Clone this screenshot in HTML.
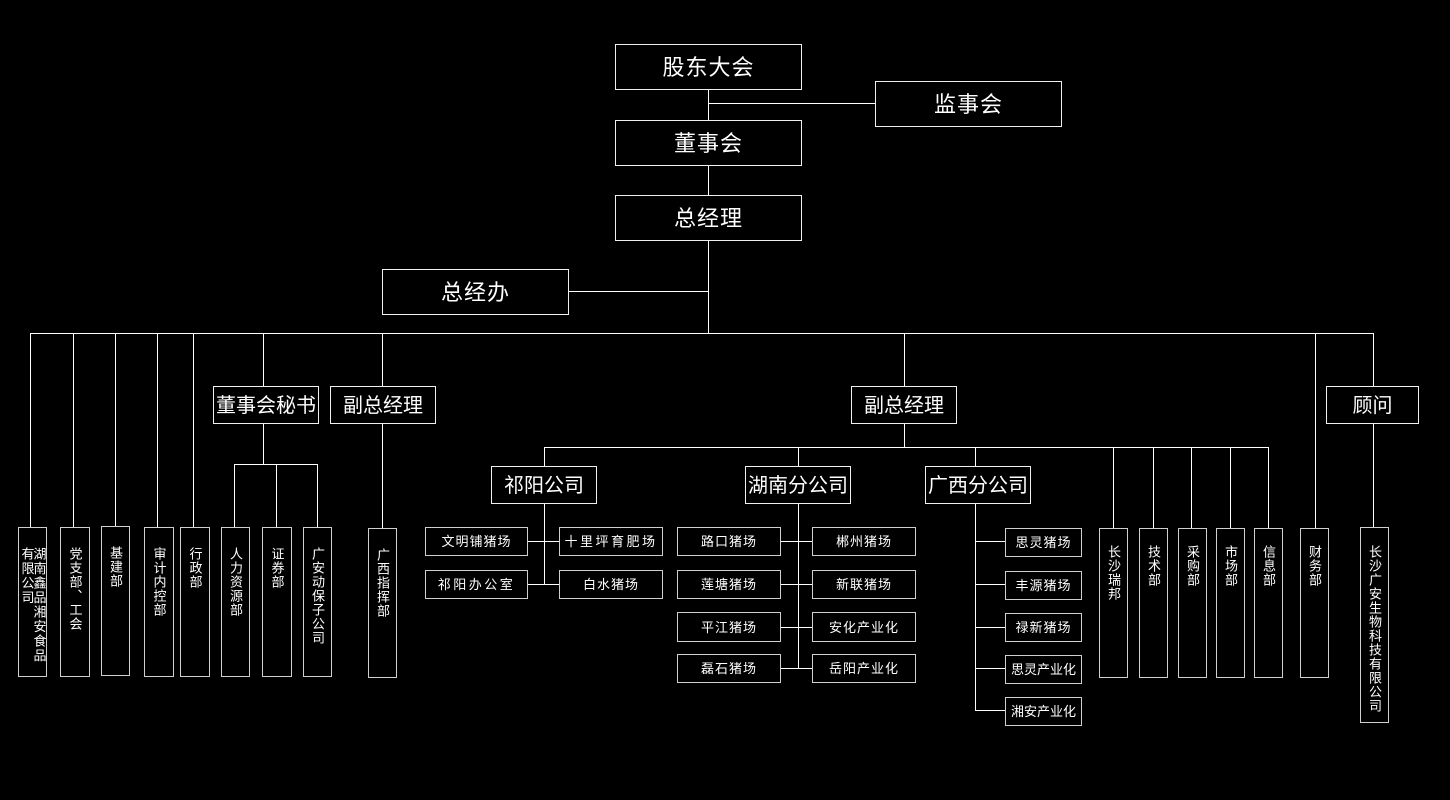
<!DOCTYPE html>
<html><head><meta charset="utf-8">
<style>
html,body{margin:0;padding:0;background:#000;}
body{width:1450px;height:800px;position:relative;overflow:hidden;font-family:"Liberation Sans","Noto Sans CJK SC",sans-serif;color:#fff;}
.l{position:absolute;background:#fff;}
.b{position:absolute;box-sizing:border-box;border:1px solid #f0f0f0;display:flex;align-items:center;justify-content:center;color:#fff;white-space:nowrap;}
.t1{font-size:22px;letter-spacing:1px;padding-bottom:3px;}
.t2{font-size:20px;letter-spacing:0px;padding-bottom:3px;}
.s{font-size:13px;letter-spacing:1px;border-color:#cfcfcf;padding-bottom:2px;}
.vb{position:absolute;box-sizing:border-box;border:1px solid #cfcfcf;display:flex;justify-content:center;align-items:flex-start;}
.vt{writing-mode:vertical-rl;text-orientation:upright;font-size:13px;line-height:13px;letter-spacing:1px;margin-top:19px;color:#fff;}
</style></head><body>

<div class="l" style="left:708px;top:89px;width:1px;height:31px"></div>
<div class="l" style="left:708px;top:103px;width:167px;height:1px"></div>
<div class="l" style="left:708px;top:165px;width:1px;height:30px"></div>
<div class="l" style="left:708px;top:240px;width:1px;height:94px"></div>
<div class="l" style="left:568px;top:291px;width:140px;height:1px"></div>
<div class="l" style="left:30px;top:333px;width:1344px;height:1px"></div>

<div class="l" style="left:30px;top:333px;width:1px;height:194px"></div>
<div class="l" style="left:73px;top:333px;width:1px;height:194px"></div>
<div class="l" style="left:115px;top:333px;width:1px;height:193px"></div>
<div class="l" style="left:157px;top:333px;width:1px;height:194px"></div>
<div class="l" style="left:193px;top:333px;width:1px;height:194px"></div>
<div class="l" style="left:263px;top:333px;width:1px;height:53px"></div>
<div class="l" style="left:382px;top:333px;width:1px;height:53px"></div>
<div class="l" style="left:904px;top:333px;width:1px;height:53px"></div>
<div class="l" style="left:1315px;top:333px;width:1px;height:195px"></div>
<div class="l" style="left:1373px;top:333px;width:1px;height:53px"></div>

<div class="l" style="left:263px;top:423px;width:1px;height:41px"></div>
<div class="l" style="left:234px;top:464px;width:84px;height:1px"></div>
<div class="l" style="left:234px;top:464px;width:1px;height:63px"></div>
<div class="l" style="left:276px;top:464px;width:1px;height:63px"></div>
<div class="l" style="left:317px;top:464px;width:1px;height:63px"></div>

<div class="l" style="left:382px;top:423px;width:1px;height:105px"></div>

<div class="l" style="left:904px;top:423px;width:1px;height:24px"></div>
<div class="l" style="left:544px;top:447px;width:725px;height:1px"></div>
<div class="l" style="left:544px;top:447px;width:1px;height:19px"></div>
<div class="l" style="left:798px;top:447px;width:1px;height:19px"></div>
<div class="l" style="left:975px;top:447px;width:1px;height:19px"></div>
<div class="l" style="left:1113px;top:447px;width:1px;height:81px"></div>
<div class="l" style="left:1153px;top:447px;width:1px;height:81px"></div>
<div class="l" style="left:1191px;top:447px;width:1px;height:81px"></div>
<div class="l" style="left:1230px;top:447px;width:1px;height:81px"></div>
<div class="l" style="left:1268px;top:447px;width:1px;height:81px"></div>

<div class="l" style="left:544px;top:503px;width:1px;height:82px"></div>
<div class="l" style="left:527px;top:541px;width:32px;height:1px"></div>
<div class="l" style="left:527px;top:584px;width:32px;height:1px"></div>

<div class="l" style="left:798px;top:503px;width:1px;height:166px"></div>
<div class="l" style="left:780px;top:541px;width:32px;height:1px"></div>
<div class="l" style="left:780px;top:584px;width:32px;height:1px"></div>
<div class="l" style="left:780px;top:627px;width:32px;height:1px"></div>
<div class="l" style="left:780px;top:668px;width:32px;height:1px"></div>

<div class="l" style="left:975px;top:503px;width:1px;height:208px"></div>
<div class="l" style="left:975px;top:541px;width:30px;height:1px"></div>
<div class="l" style="left:975px;top:584px;width:30px;height:1px"></div>
<div class="l" style="left:975px;top:627px;width:30px;height:1px"></div>
<div class="l" style="left:975px;top:668px;width:30px;height:1px"></div>
<div class="l" style="left:975px;top:710px;width:30px;height:1px"></div>

<div class="l" style="left:1373px;top:423px;width:1px;height:104px"></div>

<div class="b t1" style="left:615px;top:44px;width:187px;height:46px">股东大会</div>
<div class="b t1" style="left:875px;top:81px;width:187px;height:46px">监事会</div>
<div class="b t1" style="left:615px;top:120px;width:187px;height:46px">董事会</div>
<div class="b t1" style="left:615px;top:195px;width:187px;height:46px">总经理</div>
<div class="b t1" style="left:382px;top:269px;width:187px;height:46px">总经办</div>

<div class="b t2" style="left:213px;top:386px;width:106px;height:38px">董事会秘书</div>
<div class="b t2" style="left:330px;top:386px;width:106px;height:38px">副总经理</div>
<div class="b t2" style="left:851px;top:386px;width:106px;height:38px">副总经理</div>
<div class="b t2" style="left:1326px;top:386px;width:93px;height:38px">顾问</div>

<div class="b t2" style="left:491px;top:466px;width:106px;height:38px">祁阳公司</div>
<div class="b t2" style="left:745px;top:466px;width:106px;height:38px">湖南分公司</div>
<div class="b t2" style="left:925px;top:466px;width:106px;height:38px">广西分公司</div>

<div class="vb" style="left:18px;top:527px;width:29px;height:150px"><div class="vt" style="line-height:12px;letter-spacing:1.5px">湖南鑫品湘安食品<br>有限公司</div></div>
<div class="vb" style="left:60px;top:527px;width:30px;height:150px"><div class="vt">党支部、工会</div></div>
<div class="vb" style="left:101px;top:526px;width:29px;height:150px"><div class="vt">基建部</div></div>
<div class="vb" style="left:144px;top:527px;width:30px;height:150px"><div class="vt">审计内控部</div></div>
<div class="vb" style="left:180px;top:527px;width:30px;height:150px"><div class="vt">行政部</div></div>
<div class="vb" style="left:221px;top:527px;width:29px;height:150px"><div class="vt">人力资源部</div></div>
<div class="vb" style="left:262px;top:527px;width:30px;height:150px"><div class="vt">证券部</div></div>
<div class="vb" style="left:303px;top:527px;width:29px;height:150px"><div class="vt">广安动保子公司</div></div>
<div class="vb" style="left:368px;top:528px;width:29px;height:150px"><div class="vt">广西指挥部</div></div>

<div class="vb" style="left:1099px;top:528px;width:29px;height:150px"><div class="vt" style="margin-top:16px">长沙瑞邦</div></div>
<div class="vb" style="left:1139px;top:528px;width:29px;height:150px"><div class="vt" style="margin-top:16px">技术部</div></div>
<div class="vb" style="left:1178px;top:528px;width:29px;height:150px"><div class="vt" style="margin-top:16px">采购部</div></div>
<div class="vb" style="left:1216px;top:528px;width:29px;height:150px"><div class="vt" style="margin-top:16px">市场部</div></div>
<div class="vb" style="left:1254px;top:528px;width:29px;height:150px"><div class="vt" style="margin-top:16px">信息部</div></div>
<div class="vb" style="left:1300px;top:528px;width:29px;height:150px"><div class="vt" style="margin-top:16px">财务部</div></div>
<div class="vb" style="left:1360px;top:527px;width:29px;height:196px"><div class="vt" style="margin-top:17px">长沙广安生物科技有限公司</div></div>

<div class="b s" style="left:425px;top:527px;width:103px;height:29px">文明铺猪场</div>
<div class="b s" style="left:559px;top:527px;width:104px;height:29px;letter-spacing:2.5px">十里坪育肥场</div>
<div class="b s" style="left:425px;top:570px;width:103px;height:29px;letter-spacing:2.5px">祁阳办公室</div>
<div class="b s" style="left:559px;top:570px;width:104px;height:29px">白水猪场</div>

<div class="b s" style="left:677px;top:527px;width:104px;height:29px">路口猪场</div>
<div class="b s" style="left:812px;top:527px;width:104px;height:29px">郴州猪场</div>
<div class="b s" style="left:677px;top:570px;width:104px;height:29px">莲塘猪场</div>
<div class="b s" style="left:812px;top:570px;width:104px;height:29px">新联猪场</div>
<div class="b s" style="left:677px;top:612px;width:104px;height:30px">平江猪场</div>
<div class="b s" style="left:812px;top:612px;width:104px;height:30px">安化产业化</div>
<div class="b s" style="left:677px;top:654px;width:104px;height:29px">磊石猪场</div>
<div class="b s" style="left:812px;top:654px;width:104px;height:29px">岳阳产业化</div>

<div class="b s" style="left:1005px;top:528px;width:77px;height:29px">思灵猪场</div>
<div class="b s" style="left:1005px;top:571px;width:77px;height:29px">丰源猪场</div>
<div class="b s" style="left:1005px;top:613px;width:77px;height:29px">禄新猪场</div>
<div class="b s" style="left:1005px;top:655px;width:77px;height:29px;letter-spacing:0">思灵产业化</div>
<div class="b s" style="left:1005px;top:697px;width:77px;height:29px;letter-spacing:0">湘安产业化</div>

</body></html>
